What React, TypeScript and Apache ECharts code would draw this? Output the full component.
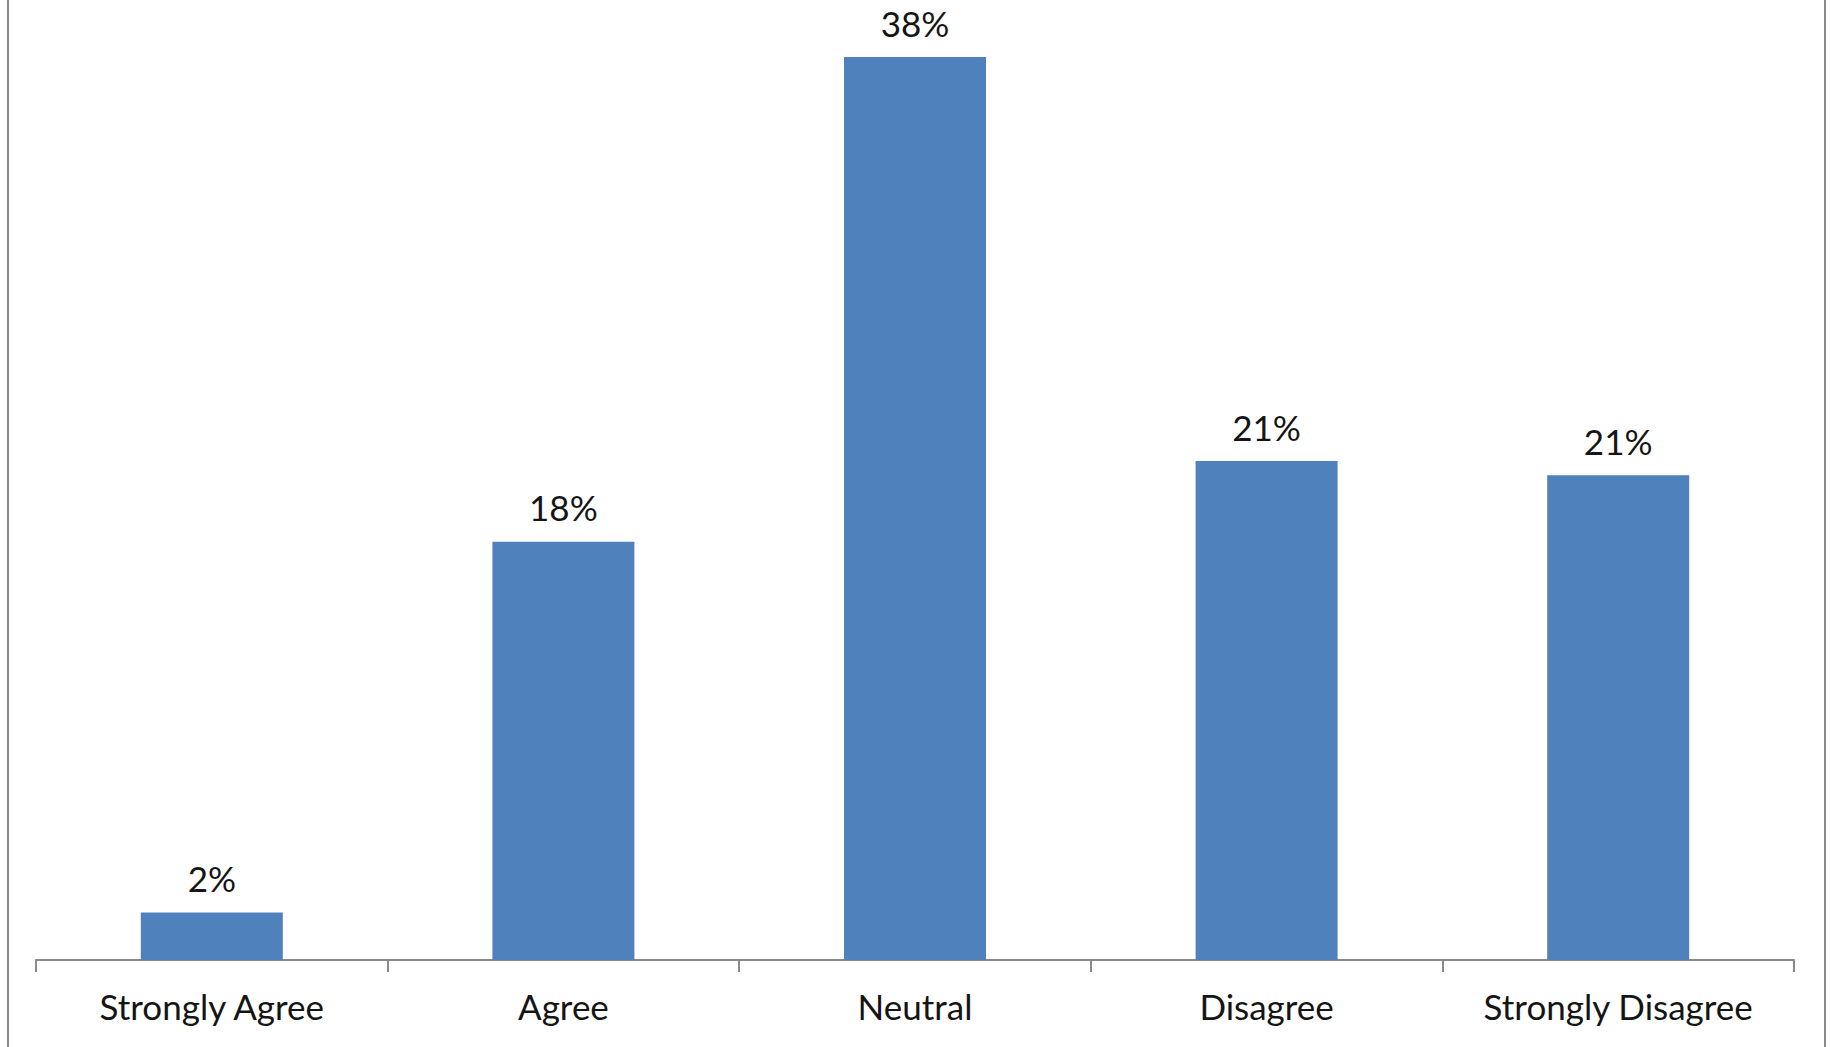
import React, { useEffect, useRef } from "react";
import * as echarts from "echarts";

const categories = ["Strongly Agree", "Agree", "Neutral", "Disagree", "Strongly Disagree"];
const values = [2, 17.6, 38, 21, 20.4];
const valueLabels = ["2%", "18%", "38%", "21%", "21%"];

export default function App() {
  const ref = useRef<HTMLDivElement>(null);
  useEffect(() => {
    document.body.style.margin = "0";
    const chart = echarts.init(ref.current!, null, { renderer: "svg" });
    const W = 1833;
    const H = 1047;
    chart.setOption({
      animation: false,
      backgroundColor: "#ffffff",
      textStyle: { fontFamily: "Lato" },
      grid: { left: 36, right: 39, top: 9.6, bottom: 87, containLabel: false },
      xAxis: {
        type: "category",
        data: categories,
        axisLine: { lineStyle: { color: "#898989", width: 2 } },
        axisTick: { show: true, length: 12, lineStyle: { color: "#898989", width: 2 } },
        axisLabel: { color: "#151515", fontSize: 35, fontFamily: "Lato", margin: 28, interval: 0 },
      },
      yAxis: {
        type: "value",
        min: 0,
        max: 40,
        show: false,
        splitLine: { show: false },
      },
      series: [
        {
          type: "bar",
          data: values,
          barWidth: 142,
          itemStyle: { color: "#4F81BD" },
          label: {
            show: true,
            position: "top",
            distance: 17,
            color: "#151515",
            fontSize: 35,
            fontFamily: "Lato",
            formatter: (p: any) => valueLabels[p.dataIndex],
          },
        },
      ],
      graphic: [
        { type: "line", shape: { x1: 8, y1: 0, x2: 8, y2: H }, style: { stroke: "#8a8a8a", lineWidth: 2 } },
        { type: "line", shape: { x1: W - 8, y1: 0, x2: W - 8, y2: H }, style: { stroke: "#8a8a8a", lineWidth: 2 } },
      ],
    });
    return () => chart.dispose();
  }, []);
  return <div ref={ref} style={{ width: 1833, height: 1047 }} />;
}
